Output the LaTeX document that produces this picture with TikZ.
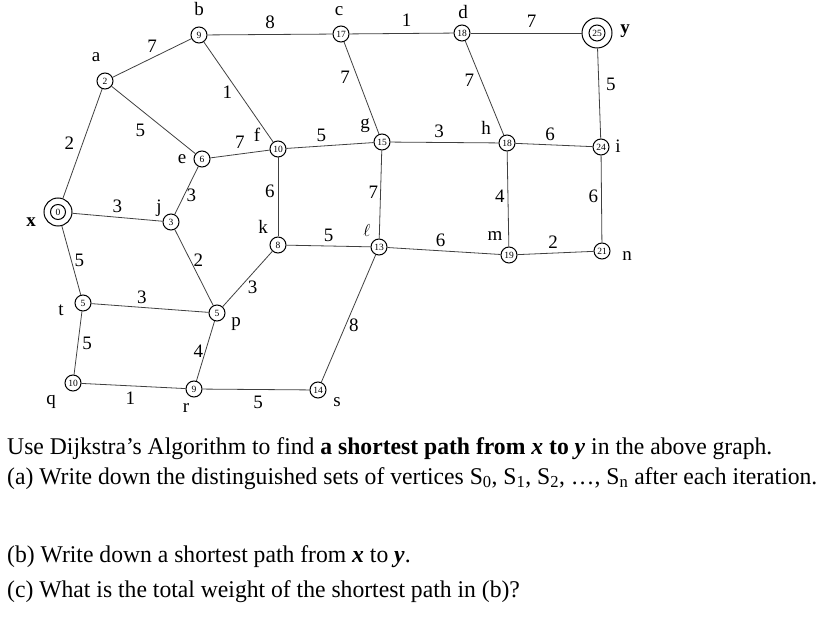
\documentclass[tikz,border=0pt]{standalone}
\usepackage{fontspec}
\setmainfont{Liberation Serif}
\newfontfamily\qfont[FakeStretch=0.985]{Liberation Serif}
\usetikzlibrary{positioning}

\begin{document}
\begin{tikzpicture}[x=1pt, y=-1pt,
  vtx/.style={draw, circle, line width=1pt, minimum size=16pt, inner sep=0pt,
              font=\fontsize{9.5}{9.5}\selectfont},
  endvtx/.style={draw, circle, line width=1pt, minimum size=#1, inner sep=0pt},
  edge/.style={line width=0.8pt, draw=black!75},
  w/.style={font=\fontsize{19}{19}\selectfont, inner sep=2pt},
  nm/.style={font=\fontsize{19}{19}\selectfont, inner sep=0pt},
  txt/.style={font=\qfont\fontsize{24}{24}\selectfont, inner sep=0pt, anchor=base west}
]
  \useasboundingbox (0,0) rectangle (835,617);

  % vertices with their labels
  \node[endvtx=28pt] (x) at (58,212) {};
  \node[vtx, minimum size=15pt] (x0) at (x) {0};
  \node[vtx] (a) at (105,81) {2};
  \node[vtx] (b) at (199,35) {9};
  \node[vtx] (c) at (341,34) {17};
  \node[vtx] (d) at (462,33) {18};
  \node[endvtx=30pt] (y) at (597,33) {};
  \node[vtx] (y0) at (y) {25};
  \node[vtx] (e) at (202,159) {6};
  \node[vtx] (f) at (278,149) {10};
  \node[vtx] (g) at (382,142) {15};
  \node[vtx] (h) at (507,143) {18};
  \node[vtx] (i) at (601,147) {24};
  \node[vtx] (j) at (171,222) {3};
  \node[vtx] (k) at (278,245) {8};
  \node[vtx] (l) at (379,247) {13};
  \node[vtx] (m) at (509,255) {19};
  \node[vtx] (n) at (602,251) {21};
  \node[vtx] (t) at (83,303) {5};
  \node[vtx] (p) at (217,313) {5};
  \node[vtx] (q) at (73,383) {10};
  \node[vtx] (r) at (194,389) {9};
  \node[vtx] (s) at (318,390) {14};

  % vertex names
  \node[nm] (x-nm) at (31,222) {\textbf{x}};
  \node[nm] (a-nm) at (96,57) {a};
  \node[nm] (b-nm) at (199,9) {b};
  \node[nm] (c-nm) at (339,11) {c};
  \node[nm] (d-nm) at (463,12) {d};
  \node[nm] (y-nm) at (625,31) {\textbf{y}};
  \node[nm] (e-nm) at (182,159) {e};
  \node[nm] (f-nm) at (257,135) {f};
  \node[nm] (g-nm) at (365,126) {g};
  \node[nm] (h-nm) at (486,128) {h};
  \node[nm] (i-nm) at (618,146) {i};
  \node[nm] (j-nm) at (159,208) {j};
  \node[nm] (k-nm) at (263,227) {k};
  \node[nm] (l-nm) at (367,231) {$\ell$};
  \node[nm] (m-nm) at (495,236) {m};
  \node[nm] (n-nm) at (627,256) {n};
  \node[nm] (t-nm) at (61,310) {t};
  \node[nm] (p-nm) at (236,324) {p};
  \node[nm] (q-nm) at (51,402) {q};
  \node[nm] (r-nm) at (186,408) {r};
  \node[nm] (s-nm) at (337,402) {s};

  % weighted edges
  \draw[edge] (x) -- node[w, left=6pt] {2} (a);
  \draw[edge] (a) -- node[w, above=3pt] {7} (b);
  \draw[edge] (b) -- node[w, above=3pt] {8} (c);
  \draw[edge] (c) -- node[w, above=5pt, pos=0.55] {1} (d);
  \draw[edge] (d) -- node[w, above=3pt, pos=0.55] {7} (y);
  \draw[edge] (a) -- node[w, below left=2pt and 6pt] {5} (e);
  \draw[edge] (b) -- node[w, left=4pt] {1} (f);
  \draw[edge] (e) -- node[w, above left=3pt and -7pt] {7} (f);
  \draw[edge] (f) -- node[w, above=2pt, pos=0.4] {5} (g);
  \draw[edge] (g) -- node[w, above=2pt, pos=0.45] {3} (h);
  \draw[edge] (h) -- node[w, above=2pt, pos=0.45] {6} (i);
  \draw[edge] (c) -- node[w, left=5pt, pos=0.38] {7} (g);
  \draw[edge] (d) -- node[w, left=5pt, pos=0.42] {7} (h);
  \draw[edge] (y) -- node[w, right=5pt, pos=0.4] {5} (i);
  \draw[edge] (x) -- node[w, above=2pt] {3} (j);
  \draw[edge] (e) -- node[w, right=0pt, pos=0.6] {3} (j);
  \draw[edge] (f) -- node[w, left=1pt, pos=0.43] {6} (k);
  \draw[edge] (g) -- node[w, left=0pt, pos=0.47] {7} (l);
  \draw[edge] (h) -- node[w, left=1pt, pos=0.47] {4} (m);
  \draw[edge] (i) -- node[w, left=1pt, pos=0.47] {6} (n);
  \draw[edge] (k) -- node[w, above=2pt] {5} (l);
  \draw[edge] (l) -- node[w, above=2pt, pos=0.47] {6} (m);
  \draw[edge] (m) -- node[w, above=2pt, pos=0.47] {2} (n);
  \draw[edge] (j) -- node[w, right=1pt, pos=0.4] {2} (p);
  \draw[edge] (k) -- node[w, below right=0pt and -2pt] {3} (p);
  \draw[edge] (x) -- node[w, right=1pt] {5} (t);
  \draw[edge] (t) -- node[w, above=1pt, pos=0.43] {3} (p);
  \draw[edge] (t) -- node[w, right=2pt] {5} (q);
  \draw[edge] (p) -- node[w, left=0pt] {4} (r);
  \draw[edge] (l) -- node[w, right=1pt, pos=0.55] {8} (s);
  \draw[edge] (q) -- node[w, below=4pt, pos=0.47] {1} (r);
  \draw[edge] (r) -- node[w, below=4pt, pos=0.52] {5} (s);

  % question text
  \node[txt] (q1) at (7,454) {Use Dijkstra’s Algorithm to find \textbf{a shortest path from \textit{x} to \textit{y}} in the above graph.};
  \node[txt] (q2) at (7,484) {(a) Write down the distinguished sets of vertices S\textsubscript{0}, S\textsubscript{1}, S\textsubscript{2}, …, S\textsubscript{n} after each iteration.};
  \node[txt] (q3) at (7,562) {(b) Write down a shortest path from \textbf{\textit{x}} to \textbf{\textit{y}}.};
  \node[txt] (q4) at (7,597) {(c) What is the total weight of the shortest path in (b)?};
\end{tikzpicture}
\end{document}
